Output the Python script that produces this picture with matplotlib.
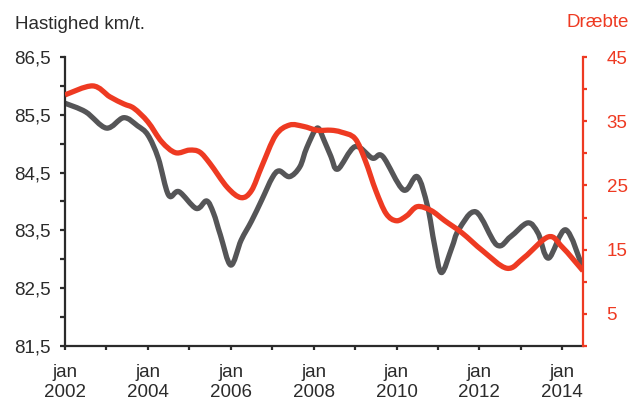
import numpy as np
import matplotlib
matplotlib.use("Agg")
import matplotlib.pyplot as plt
from matplotlib.path import Path
from matplotlib.patches import PathPatch

# Average speed (km/t.), sampled months
speed_months = [
    "2002-01", "2002-07", "2003-01", "2003-06", "2003-10", "2004-01", "2004-04",
    "2004-07", "2004-10", "2005-03", "2005-06", "2005-08", "2005-10", "2006-01",
    "2006-04", "2006-07", "2006-10", "2007-01", "2007-03", "2007-06", "2007-09",
    "2007-11", "2008-02", "2008-04", "2008-06", "2008-08", "2009-01", "2009-06",
    "2009-09", "2010-03", "2010-07", "2010-10", "2010-12", "2011-02", "2011-05",
    "2011-07", "2011-12", "2012-06", "2012-10", "2013-03", "2013-06", "2013-09",
    "2014-02", "2014-07",
]
speed_values = [
    85.70, 85.55, 85.27, 85.45, 85.31, 85.15, 84.75,
    84.11, 84.17, 83.88, 84.01, 83.80, 83.42, 82.90,
    83.33, 83.66, 84.03, 84.41, 84.53, 84.43, 84.60,
    84.93, 85.27, 85.06, 84.78, 84.56, 84.95, 84.75,
    84.78, 84.20, 84.43, 83.91, 83.25, 82.77, 83.20,
    83.51, 83.82, 83.25, 83.39, 83.63, 83.45, 83.02,
    83.51, 82.84,
]

# Killed in traffic (Dræbte), sampled months
killed_months = [
    "2002-01", "2002-09", "2003-02", "2003-06", "2003-09", "2004-01", "2004-05",
    "2004-09", "2005-01", "2005-04", "2005-07", "2005-12", "2006-04", "2006-07",
    "2006-10", "2007-02", "2007-06", "2007-10", "2008-02", "2008-06", "2008-09",
    "2009-01", "2009-04", "2009-07", "2009-10", "2010-01", "2010-04", "2010-07",
    "2010-11", "2011-03", "2011-08", "2012-02", "2012-09", "2013-02", "2013-09",
    "2014-01", "2014-07",
]
killed_values = [
    39.1, 40.5, 38.8, 37.7, 37.0, 34.9, 31.8,
    30.1, 30.5, 30.2, 28.4, 24.7, 23.1, 24.2,
    28.0, 32.8, 34.4, 34.2, 33.6, 33.6, 33.3,
    32.3, 28.8, 24.2, 20.6, 19.5, 20.3, 21.7,
    21.1, 19.5, 17.6, 14.8, 12.1, 13.8, 17.0,
    15.4, 11.7,
]

x_tick_years = list(range(2002, 2015))
x_label_years = list(range(2002, 2015, 2))
speed_ticks = [81.5, 82.0, 82.5, 83.0, 83.5, 84.0, 84.5, 85.0, 85.5, 86.0, 86.5]
speed_labels = ["81,5", "", "82,5", "", "83,5", "", "84,5", "", "85,5", "", "86,5"]
killed_ticks = [0, 5, 10, 15, 20, 25, 30, 35, 40, 45]
killed_labels = ["", "5", "", "15", "", "25", "", "35", "", "45"]

GREY = "#555557"
RED = "#EE3A22"
AXIS = "#2b2b2b"
FONT = "Liberation Sans"
FS = 13.5


def month_index(s):
    y, m = s.split("-")
    return (int(y) - 2002) * 12 + int(m) - 1


def smooth_path(x, y):
    """Catmull-Rom curve through the points, as cubic Bezier segments."""
    pts = np.column_stack([x, y]).astype(float)
    ext = np.vstack([pts[0], pts, pts[-1]])
    verts = [pts[0]]
    codes = [Path.MOVETO]
    for i in range(len(pts) - 1):
        p0, p1, p2, p3 = ext[i], ext[i + 1], ext[i + 2], ext[i + 3]
        verts += [p1 + (p2 - p0) / 6.0, p2 - (p3 - p1) / 6.0, p2]
        codes += [Path.CURVE4] * 3
    return Path(verts, codes)


plt.rcParams["font.family"] = [FONT, "DejaVu Sans"]

fig = plt.figure(figsize=(6.32, 4.01), dpi=100)
W, H = 632, 401
left, right, top, bottom = 65, 583, 57, 346
ax = fig.add_axes([left / W, 1 - bottom / H, (right - left) / W, (bottom - top) / H])
ax2 = ax.twinx()

ax.set_xlim(0, 150)
ax.set_ylim(81.5, 86.5)
ax2.set_ylim(0, 45)

sx = [month_index(m) for m in speed_months]
kx = [month_index(m) for m in killed_months]
ax.add_patch(PathPatch(smooth_path(sx, speed_values), facecolor="none",
                       edgecolor=GREY, lw=3.8, capstyle="butt", joinstyle="round"))
ax2.add_patch(PathPatch(smooth_path(kx, killed_values), facecolor="none",
                        edgecolor=RED, lw=3.8, capstyle="butt", joinstyle="round"))

# Spines
for s in ("top", "right"):
    ax.spines[s].set_visible(False)
for s in ("left", "bottom"):
    ax.spines[s].set_color(AXIS)
    ax.spines[s].set_linewidth(1.6)
for s in ("top", "left", "bottom"):
    ax2.spines[s].set_visible(False)
ax2.spines["right"].set_color(RED)
ax2.spines["right"].set_linewidth(1.6)

# Ticks
xt = [(y - 2002) * 12 for y in x_tick_years]
xl = [f"jan\n{y}" if y in x_label_years else "" for y in x_tick_years]
ax.set_xticks(xt)
ax.set_xticklabels(xl, fontsize=FS, color=AXIS, linespacing=1.2)
ax.tick_params(axis="x", direction="out", length=3, width=1.6, color=AXIS, pad=10)

ax.set_yticks(speed_ticks)
ax.set_yticklabels(speed_labels, fontsize=FS, color=AXIS)
ax.tick_params(axis="y", direction="out", length=3.5, width=1.6, color=AXIS, pad=6.5)

ax2.set_yticks(killed_ticks)
ax2.set_yticklabels(killed_labels, fontsize=FS, color=RED)
ax2.tick_params(axis="y", direction="out", length=3, width=1.6, color=RED, pad=14)

# Axis titles
fig.text(15 / W, 1 - 29 / H, "Hastighed km/t.", fontsize=FS, color=AXIS,
         ha="left", va="baseline")
fig.text(629 / W, 1 - 27 / H, "Dræbte", fontsize=FS, color=RED,
         ha="right", va="baseline")

fig.savefig("out.png", dpi=100)
